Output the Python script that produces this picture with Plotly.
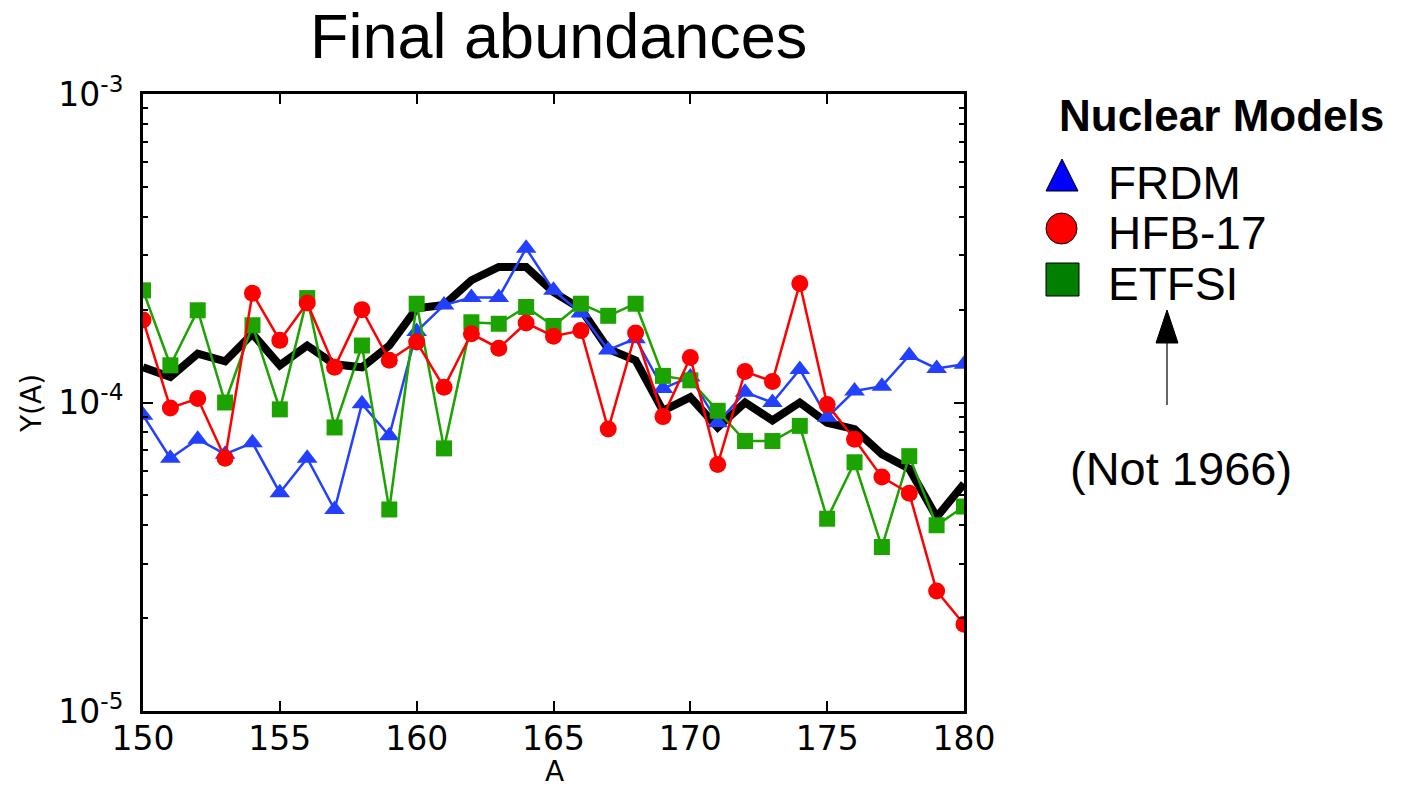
import plotly.graph_objects as go

# ---------------- data ----------------
mass_numbers = list(range(150, 181))

frdm = [9.1e-5, 6.6e-5, 7.6e-5, 6.8e-5, 7.4e-5, 5.1e-5, 6.6e-5, 4.5e-5, 9.9e-5, 7.8e-5,
        1.70e-4, 2.07e-4, 2.19e-4, 2.19e-4, 3.16e-4, 2.31e-4, 1.95e-4, 1.48e-4, 1.61e-4, 1.11e-4,
        1.21e-4, 8.6e-5, 1.08e-4, 1.0e-4, 1.28e-4, 8.95e-5, 1.09e-4, 1.13e-4, 1.42e-4, 1.29e-4,
        1.33e-4]

hfb17 = [1.85e-4, 9.6e-5, 1.03e-4, 6.6e-5, 2.26e-4, 1.59e-4, 2.10e-4, 1.30e-4, 2.00e-4, 1.37e-4,
         1.57e-4, 1.12e-4, 1.67e-4, 1.50e-4, 1.81e-4, 1.64e-4, 1.71e-4, 8.2e-5, 1.68e-4, 9.0e-5,
         1.40e-4, 6.3e-5, 1.26e-4, 1.17e-4, 2.43e-4, 9.86e-5, 7.6e-5, 5.73e-5, 5.08e-5, 2.45e-5,
         1.91e-5]

etfsi = [2.31e-4, 1.32e-4, 1.99e-4, 1.0e-4, 1.78e-4, 9.5e-5, 2.18e-4, 8.3e-5, 1.53e-4, 4.5e-5,
         2.09e-4, 7.1e-5, 1.82e-4, 1.80e-4, 2.04e-4, 1.77e-4, 2.09e-4, 1.91e-4, 2.09e-4, 1.22e-4,
         1.18e-4, 9.4e-5, 7.5e-5, 7.5e-5, 8.4e-5, 4.2e-5, 6.4e-5, 3.4e-5, 6.7e-5, 4.0e-5,
         4.6e-5]

baseline = [1.30e-4, 1.21e-4, 1.44e-4, 1.36e-4, 1.67e-4, 1.32e-4, 1.53e-4, 1.33e-4, 1.30e-4, 1.53e-4,
            2.02e-4, 2.07e-4, 2.49e-4, 2.75e-4, 2.75e-4, 2.28e-4, 2.01e-4, 1.49e-4, 1.37e-4, 9.4e-5,
            1.04e-4, 8.3e-5, 1.0e-4, 8.75e-5, 1.0e-4, 8.6e-5, 8.2e-5, 6.8e-5, 6.1e-5, 4.25e-5,
            5.45e-5]

x_tick_vals = [150, 155, 160, 165, 170, 175, 180]
y_tick_vals = [1e-5, 1e-4, 1e-3]
y_tick_text = ["10<sup>-5</sup>", "10<sup>-4</sup>", "10<sup>-3</sup>"]
y_minor_vals = [m * 10 ** e for e in (-5, -4) for m in range(2, 10)]

legend_names = ["FRDM", "HFB-17", "ETFSI"]

# ---------------- layout geometry (pixels) ----------------
W, H = 1422, 787
L, R, T, B = 143, 964, 94, 711


def px(x):
    return (x - L) / (R - L)


def py(y):
    return (B - y) / (B - T)


BLUE = "#2340ff"
RED = "#ff0000"
GREEN = "#1ca300"

fig = go.Figure()

fig.add_trace(go.Scatter(x=mass_numbers, y=baseline, mode="lines",
                         line=dict(color="black", width=8), showlegend=False))
fig.add_trace(go.Scatter(x=mass_numbers, y=frdm, mode="lines+markers",
                         line=dict(color=BLUE, width=2.5),
                         marker=dict(symbol="triangle-up", size=18, color=BLUE, line=dict(width=0)),
                         showlegend=False))
fig.add_trace(go.Scatter(x=mass_numbers, y=etfsi, mode="lines+markers",
                         line=dict(color=GREEN, width=2.5),
                         marker=dict(symbol="square", size=16, color=GREEN, line=dict(width=0)),
                         showlegend=False))
fig.add_trace(go.Scatter(x=mass_numbers, y=hfb17, mode="lines+markers",
                         line=dict(color=RED, width=2.5),
                         marker=dict(symbol="circle", size=17, color=RED, line=dict(width=0)),
                         showlegend=False))

tick_font = dict(family="DejaVu Sans", size=33, color="black")

fig.update_xaxes(range=[150, 180], tickvals=x_tick_vals, ticks="inside", ticklen=10,
                 tickwidth=1.5, tickcolor="black", showline=True, linewidth=3, linecolor="black",
                 mirror="ticks", showgrid=False, zeroline=False, tickfont=tick_font,
                 ticklabelstandoff=-4)
fig.update_yaxes(type="log", range=[-5, -3], tickvals=y_tick_vals, ticktext=y_tick_text,
                 ticks="inside", ticklen=10, tickwidth=1.5, tickcolor="black",
                 minor=dict(tickvals=y_minor_vals, ticks="inside", ticklen=5, tickwidth=1.5,
                            tickcolor="black", showgrid=False),
                 showline=True, linewidth=3, linecolor="black", mirror="ticks",
                 showgrid=False, zeroline=False, tickfont=tick_font, ticklabelstandoff=10)

shapes = []
# legend symbols
shapes.append(dict(type="path", xref="paper", yref="paper",
                   path=f"M {px(1062)},{py(159)} L {px(1078)},{py(191)} L {px(1046)},{py(191)} Z",
                   fillcolor="#0000ff", line=dict(color="black", width=1)))
shapes.append(dict(type="circle", xref="paper", yref="paper",
                   x0=px(1046), x1=px(1077), y0=py(244), y1=py(213),
                   fillcolor="#ff0000", line=dict(color="black", width=1)))
shapes.append(dict(type="rect", xref="paper", yref="paper",
                   x0=px(1046), x1=px(1079), y0=py(296), y1=py(263),
                   fillcolor="#007f00", line=dict(color="black", width=1)))
# arrow
shapes.append(dict(type="line", xref="paper", yref="paper",
                   x0=px(1167), x1=px(1167), y0=py(405), y1=py(340),
                   line=dict(color="black", width=1.2)))
shapes.append(dict(type="path", xref="paper", yref="paper",
                   path=f"M {px(1167)},{py(310)} L {px(1178)},{py(343)} L {px(1156)},{py(343)} Z",
                   fillcolor="black", line=dict(color="black", width=1)))

ann_font = dict(family="Liberation Sans, Arial", size=46, color="black")
annotations = [
    dict(text="Final abundances", x=px(558), y=py(36), xref="paper", yref="paper",
         showarrow=False, xanchor="center", yanchor="middle",
         font=dict(family="Liberation Sans, Arial", size=63, color="black")),
    dict(text="<b>Nuclear Models</b>", x=px(1057), y=py(116), xref="paper", yref="paper",
         showarrow=False, xanchor="left", yanchor="middle",
         font=dict(family="Liberation Sans, Arial", size=44, color="black")),
    dict(text="(Not 1966)", x=px(1181), y=py(468), xref="paper", yref="paper",
         showarrow=False, xanchor="center", yanchor="middle",
         font=dict(family="Liberation Sans, Arial", size=47, color="black")),
    dict(text="A", x=px(554), y=py(771), xref="paper", yref="paper",
         showarrow=False, xanchor="center", yanchor="middle",
         font=dict(family="DejaVu Sans", size=28, color="black")),
    dict(text="Y(A)", x=px(31), y=py(404), xref="paper", yref="paper",
         showarrow=False, xanchor="center", yanchor="middle", textangle=-90,
         font=dict(family="DejaVu Sans", size=28, color="black")),
]
for name, yc in zip(legend_names, [183, 233, 284]):
    annotations.append(dict(text=name, x=px(1106), y=py(yc), xref="paper", yref="paper",
                            showarrow=False, xanchor="left", yanchor="middle", font=ann_font))

fig.update_layout(width=W, height=H, margin=dict(l=L, r=W - R, t=T, b=H - B),
                  paper_bgcolor="white", plot_bgcolor="white",
                  shapes=shapes, annotations=annotations, showlegend=False)

fig.write_html("out.html")
